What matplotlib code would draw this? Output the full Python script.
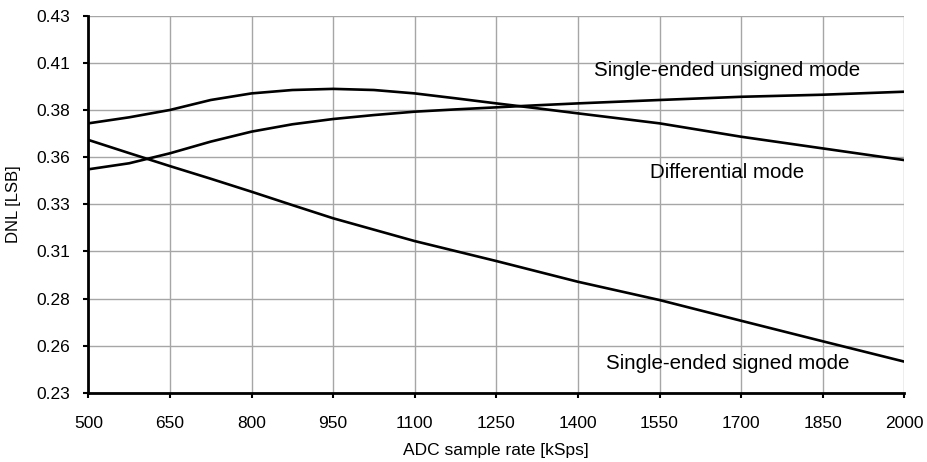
"""DNL versus ADC sample rate for the three input modes."""

import matplotlib
matplotlib.use("Agg")
import matplotlib.pyplot as plt
import numpy as np


rate = [500, 575, 650, 725, 800, 875, 950, 1025, 1100, 1175, 1250, 1325, 1400, 1550, 1700, 1850, 2000]
dnl_differential = [0.3730, 0.3762, 0.3801, 0.3854, 0.3889, 0.3907, 0.3913, 0.3907, 0.3889, 0.3863,
                    0.3836, 0.3810, 0.3783, 0.3730, 0.3659, 0.3597, 0.3535]
dnl_unsigned = [0.3486, 0.3518, 0.3571, 0.3633, 0.3686, 0.3725, 0.3753, 0.3774, 0.3792, 0.3804,
                0.3815, 0.3826, 0.3836, 0.3854, 0.3871, 0.3882, 0.3898]

rate_signed = [500, 575, 650, 725, 800, 875, 950, 1100, 1250, 1400, 1550, 1700, 1850, 2000]
dnl_signed = [0.3642, 0.3572, 0.3503, 0.3436, 0.3367, 0.3296, 0.3226, 0.3105, 0.2999, 0.2889,
              0.2792, 0.2682, 0.2573, 0.2465]

x_ticks = [500, 650, 800, 950, 1100, 1250, 1400, 1550, 1700, 1850, 2000]
y_tick_labels = ["0.23", "0.26", "0.28", "0.31", "0.33", "0.36", "0.38", "0.41", "0.43"]

labels = ["Single-ended unsigned mode", "Differential mode", "Single-ended signed mode"]
label_pos = [(1430, 0.4010), (1533, 0.3468), (1452, 0.2457)]


def main():
    plt.rcParams.update({"font.family": ["Liberation Sans", "DejaVu Sans"]})
    fig = plt.figure(figsize=(9.27, 4.62), dpi=100)
    ax = fig.add_axes([0.0953, 0.15, 0.8802, 0.8154])

    ax.plot(rate, dnl_differential, color="black", linewidth=1.9, solid_joinstyle="round", zorder=3)
    ax.plot(rate, dnl_unsigned, color="black", linewidth=1.9, solid_joinstyle="round", zorder=3)
    ax.plot(rate_signed, dnl_signed, color="black", linewidth=1.9, solid_joinstyle="round", zorder=3)

    for text, (tx, ty) in zip(labels, label_pos):
        ax.text(tx, ty, text, fontsize=14.8, va="center", ha="left", zorder=4)

    ax.set_xlim(500, 2000)
    ax.set_ylim(0.23, 0.43)
    ax.set_xticks(x_ticks)
    ax.set_yticks(np.linspace(0.23, 0.43, len(y_tick_labels)), y_tick_labels)
    ax.tick_params(labelsize=12.5, direction="out", length=3.6, width=1.5, color="black")
    ax.tick_params(axis="y", pad=9.4)
    ax.tick_params(axis="x", pad=13)
    ax.grid(color="#a6a6a6", linewidth=1.0, zorder=0)
    ax.set_axisbelow(True)
    for side in ("top", "right"):
        ax.spines[side].set_visible(False)
    for side in ("left", "bottom"):
        ax.spines[side].set_linewidth(2.0)
    ax.set_xlabel("ADC sample rate [kSps]", fontsize=12.5, labelpad=9)
    ax.set_ylabel("DNL [LSB]", fontsize=12, labelpad=11)

    fig.savefig("out.png", dpi=100)
    plt.close(fig)


if __name__ == "__main__":
    main()
